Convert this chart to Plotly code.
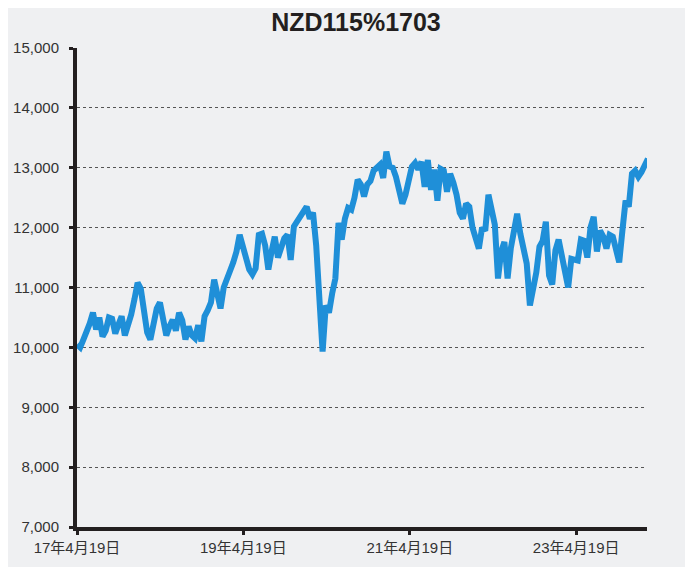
import pandas as pd
import plotly.graph_objects as go

# biweekly readings starting 2017-04-19
dates = pd.date_range("2017-04-19", periods=180, freq="14D")
values = [
    10050, 10000, 10130, 10250, 10400, 10580, 10300, 10500, 10180, 10280,
    10500, 10480, 10230, 10380, 10520, 10200, 10350, 10550, 10800, 11080,
    10980, 10600, 10250, 10130, 10380, 10650, 10750, 10400, 10200, 10350,
    10460, 10280, 10580, 10450, 10130, 10350, 10200, 10150, 10370, 10100,
    10520, 10620, 10750, 11130, 10850, 10650, 11000, 11180, 11280, 11420,
    11600, 11880, 11700, 11520, 11300, 11220, 11320, 11880, 11900, 11700,
    11300, 11600, 11850, 11500, 11650, 11820, 11880, 11460, 12020, 12100,
    12200, 12280, 12350, 12150, 12250, 11700, 10600, 9930, 10700, 10580,
    10900, 11150, 12080, 11800, 12150, 12330, 12300, 12500, 12800, 12720,
    12520, 12720, 12780, 12950, 13000, 13050, 12830, 13270, 13020, 13000,
    12850, 12630, 12400, 12550, 12800, 13020, 13080, 12970, 13100, 12680,
    13130, 12630, 12970, 12450, 12980, 12950, 12600, 12900, 12750, 12550,
    12250, 12150, 12400, 12350, 12000, 11820, 11650, 12000, 11950, 12550,
    12300, 12050, 11150, 11600, 11760, 11150, 11650, 11900, 12230, 11900,
    11600, 11400, 10700, 10950, 11250, 11680, 11780, 12100, 11200, 11050,
    11620, 11800, 11500, 11250, 11000, 11480, 11460, 11450, 11800, 11780,
    11500, 12000, 12180, 11600, 11950, 11850, 11650, 11880, 11850, 11650,
    11420, 11950, 12450, 12350, 12900, 12950, 12850, 12930, 13050, 13150,
]

tick_dates = ["2017-04-19", "2019-04-19", "2021-04-19", "2023-04-19"]
tick_text = ["17年4月19日", "19年4月19日", "21年4月19日", "23年4月19日"]

bg = "#eff0f2"
font_family = "Liberation Sans, Arial, Noto Sans CJK JP"

fig = go.Figure()
fig.add_trace(go.Scatter(
    x=dates,
    y=values,
    mode="lines",
    line=dict(color="#1f8fd8", width=6),
    showlegend=False,
))

fig.update_layout(
    width=685,
    height=559,
    paper_bgcolor=bg,
    plot_bgcolor=bg,
    margin=dict(l=69, r=46, t=40, b=40),
    title=dict(
        text="<b>NZD115%1703</b>",
        x=0.508,
        xanchor="center",
        y=0.975,
        yanchor="middle",
        font=dict(family=font_family, size=25, color="#231f20"),
    ),
    font=dict(family=font_family, size=15, color="#333333"),
)

fig.update_xaxes(
    range=["2017-04-19", "2024-02-24"],
    tickvals=tick_dates,
    ticktext=tick_text,
    showgrid=False,
    zeroline=False,
    showline=True,
    linecolor="#231f20",
    linewidth=4,
    ticks="outside",
    ticklen=4,
    tickwidth=3,
    tickcolor="#231f20",
    tickfont=dict(size=15, color="#333333"),
    automargin=False,
)

fig.update_yaxes(
    range=[7000, 15000],
    tickvals=[7000, 8000, 9000, 10000, 11000, 12000, 13000, 14000, 15000],
    tickformat=",",
    showgrid=True,
    gridcolor="#555555",
    gridwidth=1,
    griddash="dot",
    zeroline=False,
    showline=True,
    linecolor="#231f20",
    linewidth=4,
    ticks="outside",
    ticklen=4,
    tickwidth=3,
    tickcolor="#231f20",
    tickfont=dict(size=15, color="#333333"),
    ticklabelstandoff=7,
    automargin=False,
)

fig.write_html("out.html")
